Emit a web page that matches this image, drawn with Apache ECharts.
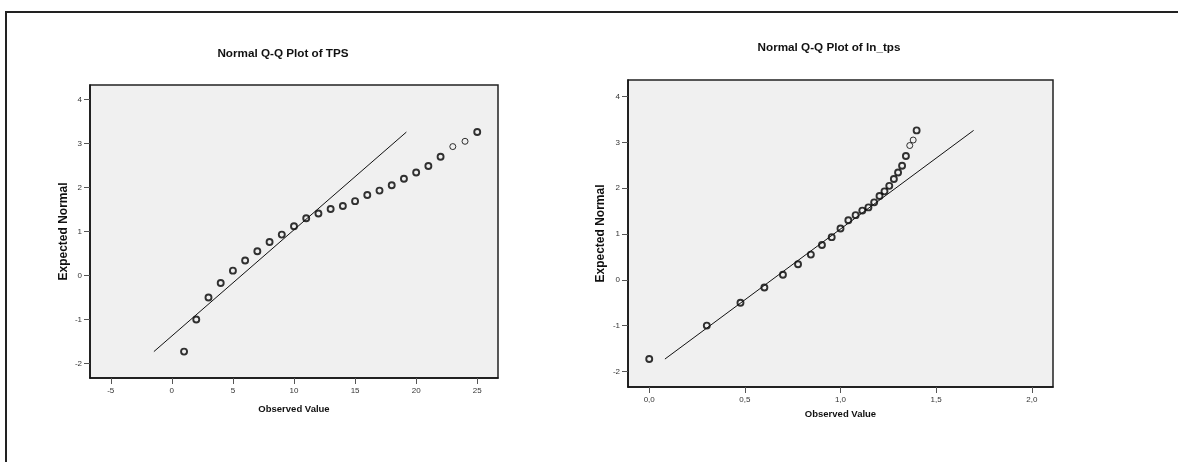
<!DOCTYPE html>
<html>
<head>
<meta charset="utf-8">
<script src="https://cdn.jsdelivr.net/npm/echarts@6/dist/echarts.min.js"></script>
<style>
html,body{margin:0;padding:0;background:#fff;}
#chart{width:1178px;height:462px;}
</style>
</head>
<body>
<div id="chart"></div>
<script>
// ---- data ----
const tpsObserved = [1,2,3,4,5,6,7,8,9,10,11,12,13,14,15,16,17,18,19,20,21,22,23,24,25];
const lnObserved = [0,0.301,0.477,0.602,0.699,0.778,0.845,0.903,0.954,1.0,1.041,1.079,1.114,1.146,1.176,1.204,1.230,1.255,1.279,1.301,1.322,1.342,1.362,1.380,1.398];
const expectedNormal = [-1.73,-1.0,-0.5,-0.17,0.11,0.34,0.55,0.76,0.93,1.12,1.30,1.41,1.51,1.58,1.69,1.83,1.93,2.05,2.20,2.34,2.49,2.70,2.93,3.05,3.26];
const tpsLineX = [-1.47, 19.2];
const tpsLineY = [-1.73, 3.26];
const lnLineX = [0.082, 1.696];
const lnLineY = [-1.73, 3.26];
const tpsXTicks = [-5,0,5,10,15,20,25];
const lnXTicks = [0,0.5,1.0,1.5,2.0];
const yTicks = [-2,-1,0,1,2,3,4];
const titles = ['Normal Q-Q Plot of TPS','Normal Q-Q Plot of ln_tps'];
const xName = 'Observed Value';
const yName = 'Expected Normal';
const thinIdx = [22,23];

function pts(xs, ys){
  return xs.map((x,i)=>({
    value:[x, ys[i]],
    itemStyle:{borderWidth: thinIdx.includes(i) ? 1 : 1.9}
  }));
}
function linePts(xs, ys){ return xs.map((x,i)=>[x, ys[i]]); }

const FONT = '"Liberation Sans", Arial, sans-serif';
const axisLine = {show:true, onZero:false, lineStyle:{color:'#111', width:1.5}};
const tick = (vals)=>({show:true, length:6, inside:false, customValues:vals, lineStyle:{color:'#555', width:1}});
const lab = (vals, fmt, margin)=>({show:true, customValues:vals, formatter:fmt, fontSize:8, color:'#333', fontFamily:FONT, margin:margin});
const nameStyle = (size)=>({fontSize:size, fontWeight:'bold', color:'#111', fontFamily:FONT});

const chart = echarts.init(document.getElementById('chart'), null, {renderer:'canvas'});
chart.setOption({
  animation:false,
  backgroundColor:'#fff',
  title:[
    {text:titles[0], left:278, top:43, textAlign:'center', textStyle:{fontSize:11.7, fontWeight:'bold', color:'#111', fontFamily:FONT}},
    {text:titles[1], left:824, top:37, textAlign:'center', textStyle:{fontSize:11.7, fontWeight:'bold', color:'#111', fontFamily:FONT}}
  ],
  graphic:[
    {type:'polyline', shape:{points:[[6,462],[6,12],[1178,12]]}, style:{stroke:'#222', lineWidth:2, fill:null}, silent:true}
  ],
  grid:[
    {left:90, top:85, width:408, height:293, show:true, backgroundColor:'#f0f0f0', borderColor:'#222', borderWidth:1.5, containLabel:false},
    {left:628, top:80, width:425, height:307, show:true, backgroundColor:'#f0f0f0', borderColor:'#222', borderWidth:1.5, containLabel:false}
  ],
  xAxis:[
    {gridIndex:0, type:'value', min:-6.7, max:26.7, splitLine:{show:false}, axisLine:axisLine,
     axisTick:tick(tpsXTicks), axisLabel:lab(tpsXTicks, v=>String(v), 9),
     name:xName, nameLocation:'middle', nameGap:26, nameTextStyle:nameStyle(9.5)},
    {gridIndex:1, type:'value', min:-0.111, max:2.111, splitLine:{show:false}, axisLine:axisLine,
     axisTick:tick(lnXTicks), axisLabel:lab(lnXTicks, v=>Number(v).toFixed(1).replace('.',','), 9),
     name:xName, nameLocation:'middle', nameGap:20, nameTextStyle:nameStyle(9.5)}
  ],
  yAxis:[
    {gridIndex:0, type:'value', min:-2.33, max:4.33, splitLine:{show:false}, axisLine:axisLine,
     axisTick:tick(yTicks), axisLabel:lab(yTicks, v=>String(v), 8),
     name:yName, nameLocation:'middle', nameGap:20, nameRotate:90, nameTextStyle:nameStyle(12)},
    {gridIndex:1, type:'value', min:-2.34, max:4.36, splitLine:{show:false}, axisLine:axisLine,
     axisTick:tick(yTicks), axisLabel:lab(yTicks, v=>String(v), 8),
     name:yName, nameLocation:'middle', nameGap:21, nameRotate:90, nameTextStyle:nameStyle(12)}
  ],
  series:[
    {type:'line', xAxisIndex:0, yAxisIndex:0, data:linePts(tpsLineX, tpsLineY), symbol:'none', lineStyle:{color:'#111', width:1}, silent:true},
    {type:'scatter', xAxisIndex:0, yAxisIndex:0, data:pts(tpsObserved, expectedNormal), symbol:'circle', symbolSize:6,
     itemStyle:{color:'rgba(0,0,0,0)', borderColor:'#000'}},
    {type:'line', xAxisIndex:1, yAxisIndex:1, data:linePts(lnLineX, lnLineY), symbol:'none', lineStyle:{color:'#111', width:1}, silent:true},
    {type:'scatter', xAxisIndex:1, yAxisIndex:1, data:pts(lnObserved, expectedNormal), symbol:'circle', symbolSize:6,
     itemStyle:{color:'rgba(0,0,0,0)', borderColor:'#000'}}
  ]
});
</script>
</body>
</html>
